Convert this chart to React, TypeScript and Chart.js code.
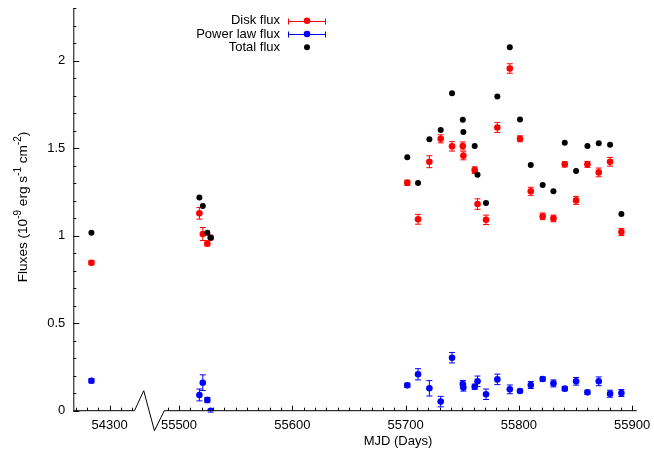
import React, { useEffect, useRef } from "react";
import { Chart, registerables } from "chart.js";

Chart.register(...registerables);

// ---- data (MJD, fluxes in 1e-9 erg s^-1 cm^-2) ----
const mjd = [
  54284, 55518, 55521, 55525, 55528,
  55701.5, 55711, 55721, 55731, 55741, 55750.5, 55751, 55761, 55763.5, 55771,
  55781, 55792, 55801, 55810.5, 55821, 55830.5, 55840.5, 55850.5, 55860.5,
  55870.5, 55880.5, 55890.5,
];
const diskFlux = [
  0.846, 1.128, 1.01, 0.956, 0.989,
  1.303, 1.094, 1.423, 1.554, 1.511, 1.513, 1.457, 1.375, 1.181, 1.091,
  1.619, 1.956, 1.554, 1.254, 1.111, 1.099, 1.408, 1.202, 1.408,
  1.362, 1.423, 1.021,
];
const diskErr = [
  0.012, 0.033, 0.037, 0.015, 0.006,
  0.015, 0.028, 0.034, 0.023, 0.027, 0.023, 0.023, 0.019, 0.03, 0.027,
  0.029, 0.027, 0.017, 0.023, 0.019, 0.019, 0.015, 0.023, 0.017,
  0.025, 0.025, 0.02,
];
const powerFlux = [
  0.171, 0.09, 0.16, 0.061, 0.0,
  0.145, 0.208, 0.128, 0.052, 0.303, 0.153, 0.132, 0.137, 0.168, 0.094,
  0.179, 0.122, 0.113, 0.147, 0.181, 0.156, 0.126, 0.168, 0.105,
  0.168, 0.097, 0.101,
];
const powerErr = [
  0.012, 0.034, 0.045, 0.015, 0.008,
  0.012, 0.032, 0.044, 0.03, 0.03, 0.02, 0.02, 0.015, 0.03, 0.03,
  0.03, 0.025, 0.01, 0.02, 0.012, 0.02, 0.012, 0.022, 0.012,
  0.025, 0.02, 0.02,
];
const totalFlux = [
  1.017, 1.219, 1.17, 1.017, 0.989,
  1.448, 1.301, 1.551, 1.604, 1.814, 1.663, 1.593, 1.513, 1.349, 1.187,
  1.796, 2.078, 1.665, 1.404, 1.29, 1.255, 1.532, 1.37, 1.513,
  1.528, 1.52, 1.124,
];

const xTickLabels = [54300, 55500, 55600, 55700, 55800, 55900];
const yTickLabels = [0, 0.5, 1, 1.5, 2];

// broken axis: left segment 54268..54322, right segment 55487..55904
const LEFT_START = 54268;
const LEFT_END = 54322;
const RIGHT_START = 55487;
const RIGHT_OFFSET = 55406.7;
const X_MAX_MJD = 55904;
const Y_MAX = 2.3;

const toAxis = (v: number) => (v < 55000 ? v - LEFT_START : v - RIGHT_OFFSET);

const FONT = '13px "Liberation Sans", Arial, sans-serif';
const FONT_TITLE = '13.6px "Liberation Sans", Arial, sans-serif';
const FONT_SMALL = '10px "Liberation Sans", Arial, sans-serif';

const errorBarsPlugin = {
  id: "errorBars",
  beforeDatasetsDraw(chart: any) {
    const { ctx } = chart;
    const yScale = chart.scales.y;
    chart.data.datasets.forEach((ds: any, i: number) => {
      if (!ds.errors) return;
      const meta = chart.getDatasetMeta(i);
      ctx.save();
      ctx.strokeStyle = ds.backgroundColor;
      ctx.lineWidth = 1;
      meta.data.forEach((el: any, j: number) => {
        const v = ds.data[j].y;
        const e = ds.errors[j];
        const y1 = yScale.getPixelForValue(v + e);
        const y2 = yScale.getPixelForValue(v - e);
        const x = el.x;
        ctx.beginPath();
        ctx.moveTo(x, y1);
        ctx.lineTo(x, y2);
        ctx.moveTo(x - 3, y1);
        ctx.lineTo(x + 3, y1);
        ctx.moveTo(x - 3, y2);
        ctx.lineTo(x + 3, y2);
        ctx.stroke();
      });
      ctx.restore();
    });
  },
};

const axesPlugin = {
  id: "brokenAxes",
  afterDraw(chart: any) {
    const { ctx, chartArea } = chart;
    const xs = chart.scales.x;
    const ys = chart.scales.y;
    const axisY = ys.getPixelForValue(0);
    const left = chartArea.left;
    const bx0 = xs.getPixelForValue(toAxis(LEFT_END));
    const bx1 = xs.getPixelForValue(toAxis(RIGHT_START));
    const right = xs.getPixelForValue(toAxis(X_MAX_MJD));
    ctx.save();
    ctx.strokeStyle = "#000";
    ctx.lineWidth = 1;
    // y axis
    ctx.beginPath();
    ctx.moveTo(left + 0.5, ys.getPixelForValue(Y_MAX));
    ctx.lineTo(left + 0.5, axisY);
    ctx.stroke();
    // x axis with break
    ctx.beginPath();
    ctx.moveTo(left, axisY);
    ctx.lineTo(bx0, axisY);
    ctx.lineTo(bx0 + 0.31 * (bx1 - bx0), axisY - 20);
    ctx.lineTo(bx0 + 0.67 * (bx1 - bx0), axisY + 20);
    ctx.lineTo(bx1, axisY);
    ctx.lineTo(right, axisY);
    ctx.stroke();

    // y ticks (inward)
    ctx.beginPath();
    for (let k = 0; k <= Math.round(Y_MAX * 10); k++) {
      const v = k / 10;
      const py = Math.round(ys.getPixelForValue(v)) + 0.5;
      const major = k % 5 === 0;
      ctx.moveTo(left, py);
      ctx.lineTo(left + (major ? 6 : 3), py);
    }
    // x ticks (inward)
    const xt: number[] = [];
    for (let m = 54270; m <= LEFT_END; m += 10) xt.push(m);
    for (let m = 55490; m <= 55900; m += 10) xt.push(m);
    xt.forEach((m) => {
      const px = Math.round(xs.getPixelForValue(toAxis(m))) + 0.5;
      const major = m % 100 === 0;
      ctx.moveTo(px, axisY);
      ctx.lineTo(px, axisY - (major ? 5 : 3));
    });
    ctx.stroke();

    // tick labels
    ctx.fillStyle = "#000";
    ctx.font = FONT;
    ctx.textAlign = "right";
    ctx.textBaseline = "middle";
    yTickLabels.forEach((v) => {
      ctx.fillText(String(v), left - 8, ys.getPixelForValue(v));
    });
    ctx.textAlign = "center";
    ctx.textBaseline = "top";
    xTickLabels.forEach((m) => {
      ctx.fillText(String(m), xs.getPixelForValue(toAxis(m)), axisY + 8);
    });

    // x title
    ctx.textBaseline = "middle";
    ctx.fillText("MJD (Days)", 398, 441);

    // y title with superscripts
    const parts: [string, boolean][] = [
      ["Fluxes (10", false],
      ["-9", true],
      [" erg s", false],
      ["-1", true],
      [" cm", false],
      ["-2", true],
      [")", false],
    ];
    let total = 0;
    parts.forEach(([t, sup]) => {
      ctx.font = sup ? FONT_SMALL : FONT_TITLE;
      total += ctx.measureText(t).width;
    });
    ctx.translate(23, 207);
    ctx.rotate(-Math.PI / 2);
    ctx.textAlign = "left";
    ctx.textBaseline = "middle";
    let cx = -total / 2;
    parts.forEach(([t, sup]) => {
      ctx.font = sup ? FONT_SMALL : FONT_TITLE;
      ctx.fillText(t, cx, sup ? -5 : 0);
      cx += ctx.measureText(t).width;
    });
    ctx.restore();

    // legend
    ctx.save();
    ctx.font = FONT;
    ctx.fillStyle = "#000";
    ctx.textAlign = "right";
    ctx.textBaseline = "middle";
    const rows: [string, string, boolean][] = [
      ["Disk flux", "#ff0000", true],
      ["Power law flux", "#0000ff", true],
      ["Total flux", "#000000", false],
    ];
    rows.forEach(([label, color, bar], r) => {
      const y = 20.7 + r * 13.3;
      ctx.fillStyle = "#000";
      ctx.fillText(label, 280, y);
      ctx.strokeStyle = color;
      ctx.fillStyle = color;
      ctx.lineWidth = 1;
      if (bar) {
        const yy = Math.round(y) + 0.5;
        ctx.beginPath();
        ctx.moveTo(288.5, yy);
        ctx.lineTo(325.5, yy);
        ctx.moveTo(288.5, yy - 3);
        ctx.lineTo(288.5, yy + 3);
        ctx.moveTo(325.5, yy - 3);
        ctx.lineTo(325.5, yy + 3);
        ctx.stroke();
      }
      ctx.beginPath();
      ctx.arc(307, y, bar ? 3.3 : 3, 0, Math.PI * 2);
      ctx.fill();
    });
    ctx.restore();
  },
};

export default function App() {
  const ref = useRef<HTMLCanvasElement | null>(null);
  useEffect(() => {
    document.body.style.margin = "0";
    const canvas = ref.current!;
    const toPts = (vals: number[]) => mjd.map((m, i) => ({ x: toAxis(m), y: vals[i] }));
    const chart = new Chart(canvas, {
      type: "scatter",
      data: {
        datasets: [
          {
            label: "Total flux",
            data: toPts(totalFlux),
            backgroundColor: "#000000",
            pointRadius: 3,
            borderWidth: 0,
            order: 0,
          },
          {
            label: "Power law flux",
            data: toPts(powerFlux),
            backgroundColor: "#0000ff",
            pointRadius: 3.3,
            borderWidth: 0,
            order: 1,
            errors: powerErr,
          } as any,
          {
            label: "Disk flux",
            data: toPts(diskFlux),
            backgroundColor: "#ff0000",
            pointRadius: 3.3,
            borderWidth: 0,
            order: 2,
            errors: diskErr,
          } as any,
        ],
      },
      options: {
        animation: false,
        responsive: false,
        events: [],
        layout: { padding: { left: 73.3, right: 17.3, top: 8.3, bottom: 44.3 } },
        plugins: { legend: { display: false }, tooltip: { enabled: false } },
        scales: {
          x: { type: "linear", display: false, min: 0, max: toAxis(X_MAX_MJD) },
          y: { type: "linear", display: false, min: 0, max: Y_MAX },
        },
      },
      plugins: [errorBarsPlugin, axesPlugin],
    });
    return () => chart.destroy();
  }, []);
  return <canvas ref={ref} width={654} height={455} style={{ display: "block" }} />;
}
